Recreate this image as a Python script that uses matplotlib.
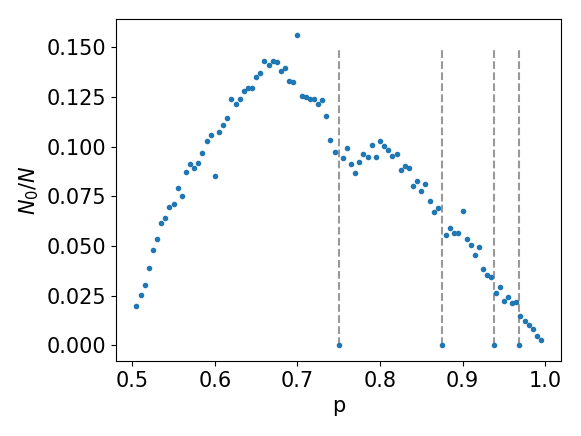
import numpy as np
import matplotlib
matplotlib.use("Agg")
import matplotlib.pyplot as plt

# main series: p = 0.505 .. 0.995 step 0.005 (0.75 and 0.875 plotted separately at 0)
p_block1 = [round(0.505 + 0.005 * i, 3) for i in range(49)]      # 0.505 .. 0.745
n_block1 = [0.0199, 0.0253, 0.0306, 0.0390, 0.0482, 0.0536, 0.0614, 0.0640, 0.0695, 0.0711,
            0.0792, 0.0753, 0.0874, 0.0911, 0.0892, 0.0919, 0.0969, 0.1028, 0.1056, 0.0854,
            0.1075, 0.1110, 0.1143, 0.1239, 0.1214, 0.1237, 0.1281, 0.1292, 0.1296, 0.1351,
            0.1369, 0.1431, 0.1408, 0.1431, 0.1426, 0.1378, 0.1396, 0.1329, 0.1322, 0.1562,
            0.1254, 0.1247, 0.1239, 0.1239, 0.1215, 0.1235, 0.1152, 0.1035, 0.0973]
p_block2 = [round(0.755 + 0.005 * i, 3) for i in range(24)]      # 0.755 .. 0.87
n_block2 = [0.0944, 0.0994, 0.0911, 0.0865, 0.0922, 0.0964, 0.0949, 0.1009, 0.0949, 0.1030,
            0.1004, 0.0981, 0.0951, 0.0961, 0.0884, 0.0902, 0.0894, 0.0804, 0.0827, 0.0777,
            0.0812, 0.0725, 0.0673, 0.0693]
p_block3 = [round(0.880 + 0.005 * i, 3) for i in range(24)]      # 0.88 .. 0.995
n_block3 = [0.0554, 0.0591, 0.0566, 0.0564, 0.0675, 0.0534, 0.0506, 0.0457, 0.0494, 0.0382,
            0.0353, 0.0343, 0.0266, 0.0295, 0.0224, 0.0246, 0.0213, 0.0218, 0.0149, 0.0124,
            0.0104, 0.0082, 0.0047, 0.0028]

p_special = [0.75, 0.875, 0.9375, 0.96875]
n_special = [0.0, 0.0, 0.0, 0.0]
vline_top = 0.15

p_all = p_block1 + p_special[:1] + p_block2 + p_special[1:2] + p_block3
n_all = n_block1 + n_special[:1] + n_block2 + n_special[1:2] + n_block3

fs = 15
fig = plt.figure(figsize=(5.81, 4.36), dpi=100)
ax = fig.add_axes([0.200, 0.172, 0.766, 0.784])
ax.vlines(p_special, 0, vline_top, colors='gray', linestyles='--', alpha=0.8)
ax.plot(p_all, n_all, '.', color='#1f77b4')
ax.plot(p_special[2:], n_special[2:], '.', color='#1f77b4')
ax.set_xlabel('p', fontsize=fs)
ax.set_ylabel('$N_0/N$', fontsize=fs)
ax.tick_params(labelsize=fs)
ax.set_xticks([0.5, 0.6, 0.7, 0.8, 0.9, 1.0])
ax.set_yticks([0.0, 0.025, 0.05, 0.075, 0.1, 0.125, 0.15])
ax.margins(x=0.05, y=0.05)
fig.savefig('out.png', dpi=100)
